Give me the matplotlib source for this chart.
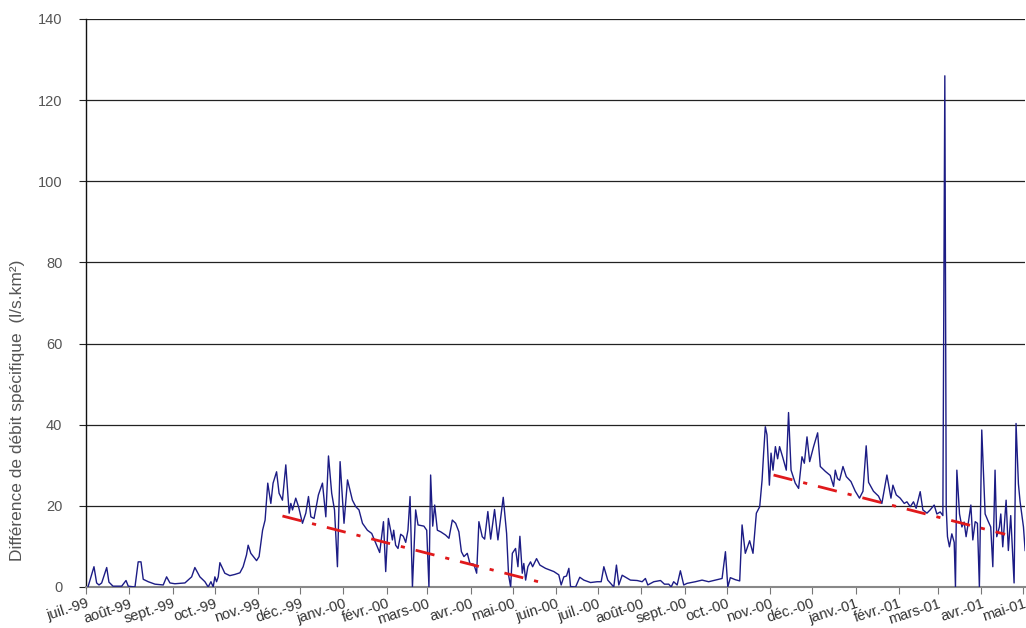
import numpy as np
import matplotlib
matplotlib.use("Agg")
import matplotlib.pyplot as plt
import matplotlib.dates as mdates
from datetime import datetime

plt.rcParams['font.family'] = ['Liberation Sans', 'DejaVu Sans']

# day offsets since 1999-07-01 and values (l/s.km2)
days = [1.4, 5.7, 7.6, 9.3, 11.2, 14.8, 16.4, 19.3, 25.5, 28.6, 30.2, 35.0, 37.3, 39.3, 40.9,
        44.5, 49.3, 55.2, 57.6, 60.0, 63.5, 70.7, 75.5, 77.8, 81.4, 85.0, 87.3, 89.3, 90.9,
        92.1, 93.3, 94.5, 95.7, 99.2, 102.8, 106.4, 110.0, 112.3, 114.7, 115.9, 117.8, 121.9,
        123.7, 126.2, 128.0, 129.9, 132.1, 133.7, 136.2, 138.0, 140.4, 142.8, 145.2, 146.4,
        147.6, 149.9, 151.9, 154.7, 157.1, 159.0, 160.7, 163.0, 166.1, 169.0, 171.4, 173.3,
        175.6, 177.6, 179.7, 181.6, 184.4, 186.9, 190.4, 192.8, 195.1, 197.6, 201.1, 204.2,
        207.1, 209.9, 212.6, 214.2, 216.1, 219.0, 219.9, 221.3, 223.0, 224.9, 226.8, 228.5,
        230.1, 231.6, 233.3, 235.6, 237.3, 241.5, 243.5, 245.1, 246.3, 247.8, 249.2, 251.1,
        253.5, 257.0, 259.4, 261.8, 264.2, 266.5, 268.3, 270.1, 272.5, 274.4, 277.2, 279.2,
        280.8, 283.2, 284.9, 287.2, 289.2, 292.0, 294.4, 298.2, 300.6, 302.0, 303.5, 304.7,
        307.0, 308.7, 310.1, 311.8, 312.9, 314.2, 315.8, 317.7, 319.2, 322.0, 324.4, 328.4,
        334.4, 337.9, 339.6, 341.5, 343.4, 345.1, 346.3, 349.9, 352.9, 355.8, 360.6, 365.3,
        368.2, 370.1, 372.9, 377.2, 379.1, 380.8, 383.2, 389.1, 393.9, 397.5, 399.8, 401.5,
        405.8, 410.6, 413.4, 416.5, 418.2, 420.0, 422.5, 424.8, 427.2, 429.6, 435.5, 440.3,
        445.0, 449.8, 454.6, 457.0, 458.7, 460.5, 464.1, 467.2, 468.9, 471.2, 474.3, 476.7,
        479.1, 481.5, 483.2, 484.3, 485.5, 486.7, 488.4, 489.6, 491.0, 492.7, 494.3, 495.7,
        498.1, 500.5, 502.1, 503.9, 506.9, 509.3, 511.7, 513.4, 515.3, 517.2, 520.0, 522.9,
        524.8, 528.4, 531.9, 534.3, 535.5, 537.1, 538.6, 541.0, 543.4, 546.7, 549.8, 552.8,
        555.3, 557.6, 559.3, 562.8, 566.4, 568.8, 572.4, 575.3, 576.7, 579.1, 581.9, 584.8,
        586.7, 589.1, 591.4, 593.3, 596.2, 598.1, 601.0, 603.3, 606.2, 608.1, 610.5, 612.4,
        613.8, 614.8, 615.7, 617.1, 618.8, 620.5, 621.4, 622.4, 624.3, 626.0, 627.6, 629.0,
        630.7, 632.4, 633.8, 635.5, 637.1, 638.5, 640.2, 642.6, 644.9, 646.6, 648.1, 649.7,
        650.9, 652.8, 653.8, 655.2, 657.6, 659.2, 660.9, 663.3, 664.7, 666.4, 667.6, 670.0,
        671.2]
values = [0, 5.0, 1, 0.5, 1, 4.8, 1.2, 0.2, 0.2, 1.6, 0.2, 0, 6.2, 6.2, 1.9,
          1.3, 0.7, 0.5, 2.5, 1, 0.8, 1, 2.5, 4.8, 2.5, 1.3, 0, 1.3, 0,
          2.5, 1.3, 2.5, 6, 3.4, 2.8, 3.1, 3.5, 5, 7.9, 10.3, 8.3, 6.5,
          7.5, 14, 16.5, 25.6, 20.6, 25.6, 28.4, 23.1, 21.4, 30.1, 18.2, 20.6,
          19, 21.9, 19.8, 15.7, 18.2, 22.3, 17.3, 16.9, 22.7, 25.6, 17.3, 32.3,
          23.1, 19, 5, 30.9, 15.7, 26.4, 21.4, 19.8, 19, 15.7, 14, 13.2,
          10.8, 8.5, 16.1, 3.8, 16.9, 11.6, 14, 10.3, 9.5, 13, 12.5, 11,
          14, 22.3, 0, 19, 15.3, 15, 14, 0, 27.6, 15, 20.2, 14,
          13.6, 12.8, 12, 16.5, 15.7, 13.6, 8.7, 7.5, 8.3, 5.8, 5.6, 3.4,
          16.1, 12.4, 11.8, 18.6, 11.8, 19.1, 11.6, 22.1, 13.2, 3, 0, 8.3,
          9.5, 5, 12.5, 3.4, 5.8, 1.7, 5, 6.2, 5, 7, 5.4, 4.6,
          3.8, 3, 0.5, 2.5, 2.7, 4.6, 0.1, 0, 2.4, 1.7, 1.1, 1.3,
          1.3, 5, 1.7, 0, 5.4, 0.5, 2.9, 1.7, 1.6, 1.3, 2.1, 0.5,
          1.3, 1.6, 0.7, 0.7, 0, 1.3, 0.5, 4, 0.5, 0.9, 1.3, 1.7,
          1.3, 1.7, 2.1, 8.7, 0, 2.3, 1.8, 1.5, 15.3, 8.3, 11.4, 8.3,
          18.2, 19.8, 26.4, 33, 39.5, 37.5, 25.1, 33, 28.8, 34.6, 31.6, 34.6,
          31.8, 28.8, 43, 28.8, 25.6, 24.3, 32.1, 30.5, 37, 30.9, 34.6, 38,
          29.7, 28.5, 27.5, 24.8, 28.8, 26.7, 26.3, 29.7, 27.2, 26, 23.6, 21.9,
          23.6, 34.8, 25.8, 23.6, 22.4, 20.6, 27.6, 21.9, 25.1, 22.7, 21.9, 20.6,
          21, 19.8, 21, 19.4, 23.5, 19, 18.2, 19, 20.2, 18, 18.5, 17.6,
          126, 19.5, 12.4, 9.9, 13.1, 11, 0, 28.8, 18, 14.8, 16, 12.4,
          16.1, 20.2, 11.6, 16.1, 15.7, 0, 38.7, 18, 16.1, 14.8, 5, 28.8,
          12.4, 14.8, 18, 9.9, 21.4, 9, 17.6, 1, 40.3, 25.4, 21, 14.8,
          9]

# trend lines (day offsets, values)
trend1_days = [140.4, 324.4]
trend1_vals = [17.5, 1.2]
trend2_days = [491.4, 656.9]
trend2_vals = [27.6, 13.0]

month_labels = ['juil.-99', 'août-99', 'sept.-99', 'oct.-99', 'nov.-99', 'déc.-99',
                'janv.-00', 'févr.-00', 'mars-00', 'avr.-00', 'mai-00', 'juin-00',
                'juil.-00', 'août-00', 'sept.-00', 'oct.-00', 'nov.-00', 'déc.-00',
                'janv.-01', 'févr.-01', 'mars-01', 'avr.-01', 'mai-01']
y_ticks = [0, 20, 40, 60, 80, 100, 120, 140]
y_label = 'Différence de débit spécifique  (l/s.km²)'

start = mdates.date2num(datetime(1999, 7, 1))
x = start + np.array(days)
t1x = start + np.array(trend1_days)
t2x = start + np.array(trend2_days)

tick_pos = []
for i in range(len(month_labels)):
    yy = 1999 + (6 + i) // 12
    mm = (6 + i) % 12 + 1
    tick_pos.append(mdates.date2num(datetime(yy, mm, 1)))

fig = plt.figure(figsize=(10.26, 6.28), dpi=100)
ax = fig.add_axes([86 / 1026, 41 / 628, 939 / 1026, 568 / 628])

for yv in y_ticks[1:]:
    ax.axhline(yv, color='#222222', lw=0.9, zorder=1)

ax.plot(x, values, color='#1c1c85', lw=1.0, zorder=3)
ax.plot(t1x, trend1_vals, color='#e0191b', lw=2.0, zorder=4, dashes=[7, 4, 1.5, 4])
ax.plot(t2x, trend2_vals, color='#e0191b', lw=2.0, zorder=4, dashes=[7, 4, 1.5, 4])

ax.set_xlim(start, start + 671.1)
ax.set_ylim(0, 140)
ax.set_yticks(y_ticks)
ax.set_yticklabels([str(v) for v in y_ticks], fontsize=10.5, color='#555555')
ax.set_xticks(tick_pos)
ax.set_xticklabels(month_labels, fontsize=10.5, color='#333333', rotation=18,
                   ha='right', rotation_mode='anchor')
ax.tick_params(axis='x', direction='out', length=5, color='#777777', pad=2)
ax.tick_params(axis='y', direction='out', length=5, color='#222222', pad=12)

for s in ['top', 'right']:
    ax.spines[s].set_visible(False)
ax.spines['left'].set_color('#111111')
ax.spines['left'].set_linewidth(1.0)
ax.spines['bottom'].set_color('#888888')
ax.spines['bottom'].set_linewidth(1.5)

fig.text(18 / 1026, 1 - 410 / 628, y_label, rotation=90, ha='center', va='center',
         fontsize=12.5, color='#555555')

fig.savefig('out.png', dpi=100)
